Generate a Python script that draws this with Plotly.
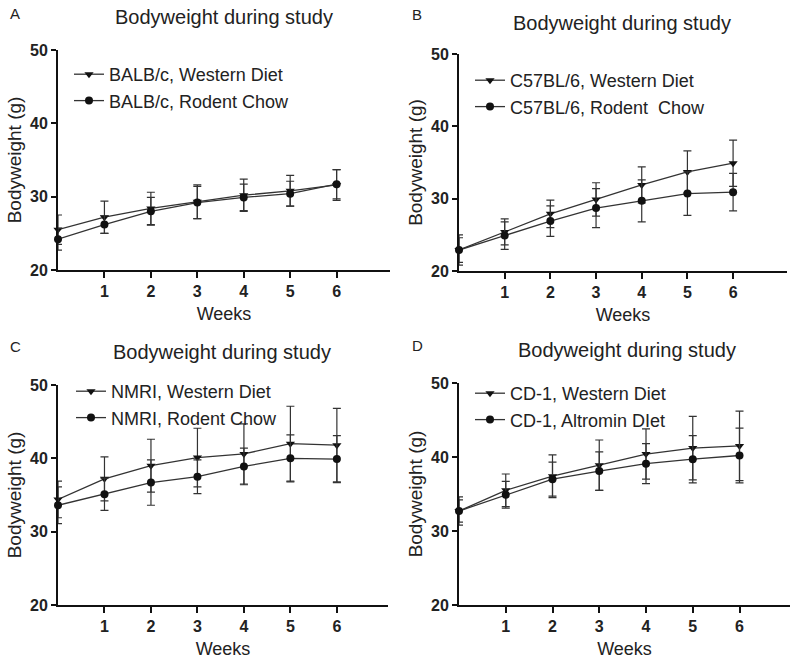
import plotly.graph_objects as go

weeks = [0, 1, 2, 3, 4, 5, 6]
tick_weeks = [1, 2, 3, 4, 5, 6]
y_ticks = [20, 30, 40, 50]

# Panel A
a_names = ["BALB/c, Western Diet", "BALB/c, Rodent Chow"]
a_western = [25.5, 27.2, 28.4, 29.3, 30.2, 30.8, 31.6]
a_western_sd = [2.0, 2.2, 2.2, 2.3, 2.2, 2.1, 2.1]
a_chow = [24.2, 26.2, 28.0, 29.2, 29.9, 30.4, 31.7]
a_chow_sd = [1.5, 1.2, 1.9, 2.2, 1.8, 1.7, 2.0]

# Panel B
b_names = ["C57BL/6, Western Diet", "C57BL/6, Rodent\u00a0 Chow"]
b_western = [22.9, 25.4, 27.9, 29.9, 31.9, 33.7, 34.9]
b_western_sd = [1.7, 1.8, 1.9, 2.3, 2.5, 2.9, 3.2]
b_chow = [22.9, 24.9, 26.9, 28.7, 29.7, 30.7, 30.9]
b_chow_sd = [2.1, 1.9, 2.1, 2.7, 2.9, 3.0, 2.6]

# Panel C
c_names = ["NMRI, Western Diet", "NMRI, Rodent Chow"]
c_western = [34.4, 37.2, 39.0, 40.1, 40.6, 42.0, 41.8]
c_western_sd = [2.5, 3.0, 3.6, 4.0, 4.1, 5.1, 5.0]
c_chow = [33.6, 35.1, 36.7, 37.5, 38.9, 40.0, 39.9]
c_chow_sd = [2.5, 2.2, 3.1, 2.3, 2.5, 3.2, 3.2]

# Panel D
d_names = ["CD-1, Western Diet", "CD-1, Altromin DIet"]
d_western = [32.7, 35.5, 37.4, 38.9, 40.4, 41.2, 41.5]
d_western_sd = [1.5, 2.2, 2.9, 3.4, 3.4, 4.3, 4.7]
d_chow = [32.7, 34.9, 37.0, 38.1, 39.1, 39.7, 40.2]
d_chow_sd = [1.9, 1.8, 2.3, 2.6, 2.7, 3.2, 3.7]

letters = ["A", "B", "C", "D"]
title_text = "Bodyweight during study"
x_title = "Weeks"
y_title = "Bodyweight (g)"

FONT = "Arial, Liberation Sans, sans-serif"
W, H = 800, 664

panels = [
    dict(names=a_names, w=a_western, wsd=a_western_sd, c=a_chow, csd=a_chow_sd,
         xd=(58, 390), yd=(50, 270), xr=7.15, leg=(69, 56),
         title=(224, 17), letter=(8, 13)),
    dict(names=b_names, w=b_western, wsd=b_western_sd, c=b_chow, csd=b_chow_sd,
         xd=(459, 787), yd=(54, 271), xr=7.18, leg=(470, 62),
         title=(622, 23), letter=(410, 15)),
    dict(names=c_names, w=c_western, wsd=c_western_sd, c=c_chow, csd=c_chow_sd,
         xd=(58, 388), yd=(385, 605), xr=7.1, leg=(71, 373),
         title=(222, 352), letter=(8, 347)),
    dict(names=d_names, w=d_western, wsd=d_western_sd, c=d_chow, csd=d_chow_sd,
         xd=(459, 790), yd=(383, 605), xr=7.08, leg=(470, 375),
         title=(627, 350), letter=(410, 345)),
]

fig = go.Figure()
layout = dict(
    width=W, height=H, margin=dict(l=0, r=0, t=0, b=0, autoexpand=False),
    paper_bgcolor="white", plot_bgcolor="white",
    font=dict(family=FONT, color="#222"),
    annotations=[],
)

for i, p in enumerate(panels):
    n = "" if i == 0 else str(i + 1)
    xa, ya = "x" + n, "y" + n
    legname = "legend" + n
    for j, (vals, sds, sym, size) in enumerate([
        (p["w"], p["wsd"], "triangle-down", 8),
        (p["c"], p["csd"], "circle", 8),
    ]):
        fig.add_trace(go.Scatter(
            x=weeks, y=vals, name=p["names"][j], mode="lines+markers",
            xaxis=xa, yaxis=ya, legend=legname, legendgroup=f"g{i}{j}",
            line=dict(color="#333", width=1.3),
            marker=dict(symbol=sym, size=size, color="#111"),
            error_y=dict(type="data", array=sds, visible=True,
                         color="#333", thickness=1.2, width=4),
            cliponaxis=False,
        ))
    x0, x1 = p["xd"]
    y0, y1 = p["yd"]
    layout["xaxis" + n] = dict(
        domain=[x0 / W, x1 / W], range=[0, p["xr"]], anchor=ya,
        automargin=False,
        tickvals=tick_weeks, ticks="outside", ticklen=6, tickwidth=2,
        tickcolor="#111", showline=True, linecolor="#111", linewidth=2,
        showgrid=False, zeroline=False,
        tickfont=dict(family=FONT, size=16, color="#222", weight="bold"),
        title=dict(text=x_title, font=dict(family=FONT, size=18, color="#222"),
                   standoff=8),
    )
    layout["yaxis" + n] = dict(
        domain=[1 - y1 / H, 1 - y0 / H], range=[20, 50], anchor=xa,
        automargin=False,
        tickvals=y_ticks, ticks="outside", ticklen=5, tickwidth=2,
        tickcolor="#111", showline=True, linecolor="#111", linewidth=2,
        showgrid=False, zeroline=False,
        tickfont=dict(family=FONT, size=16, color="#222", weight="bold"),
        title=dict(text=y_title, font=dict(family=FONT, size=19, color="#222"),
                   standoff=3),
    )
    lx, ly = p["leg"]
    layout[legname] = dict(
        x=lx / W, y=1 - ly / H, xanchor="left", yanchor="top",
        bgcolor="rgba(0,0,0,0)", font=dict(family=FONT, size=18, color="#222"),
        tracegroupgap=0, itemwidth=30,
    )
    tx, ty = p["title"]
    layout["annotations"].append(dict(
        text=title_text, x=tx / W, y=1 - ty / H, xref="paper", yref="paper",
        xanchor="center", yanchor="middle", showarrow=False,
        font=dict(family=FONT, size=20, color="#222"),
    ))
    lx2, ly2 = p["letter"]
    layout["annotations"].append(dict(
        text=letters[i], x=lx2 / W, y=1 - ly2 / H, xref="paper", yref="paper",
        xanchor="left", yanchor="middle", showarrow=False,
        font=dict(family=FONT, size=15, color="#222"),
    ))

fig.update_layout(**layout)
fig.write_html(
    "out.html",
    config={"displayModeBar": False},
    post_script="document.body.style.margin='0';document.body.style.padding='0';",
)
